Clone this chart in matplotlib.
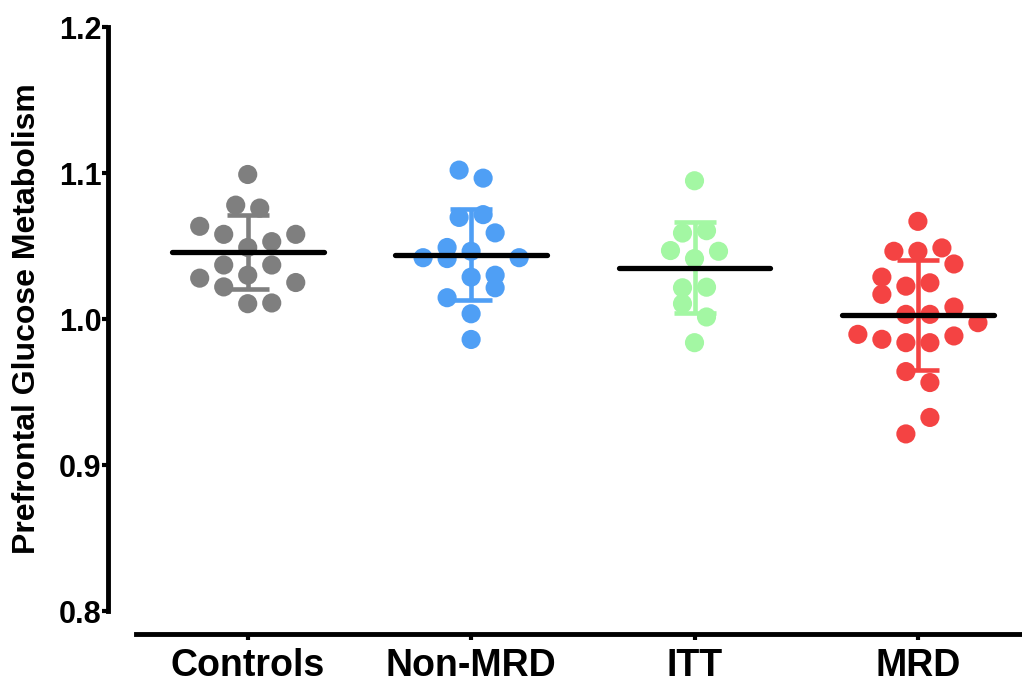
import numpy as np
import matplotlib
matplotlib.use("Agg")
import matplotlib.pyplot as plt

plt.rcParams['font.family'] = ['Liberation Sans', 'DejaVu Sans']
plt.rcParams['font.weight'] = 'bold'

# data
groups = ['Controls', 'Non-MRD', 'ITT', 'MRD']
colors = ['#7f7f7f', '#4f9ff5', '#a3f7a3', '#f44343']

controls = [1.099, 1.078, 1.076, 1.0635, 1.058, 1.058, 1.053, 1.049,
            1.037, 1.037, 1.028, 1.030, 1.025, 1.022, 1.0105, 1.011]
non_mrd = [1.102, 1.0965, 1.0696, 1.0715, 1.059, 1.049, 1.042, 1.0414,
           1.0464, 1.042, 1.0287, 1.030, 1.0214, 1.0146, 1.0036, 0.986]
itt = [1.0947, 1.0589, 1.0605, 1.0469, 1.0464, 1.0414, 1.0214, 1.0218,
       1.0105, 1.0014, 0.9838]
mrd = [1.0669, 1.0464, 1.0464, 1.0487, 1.0377, 1.0287, 1.0225, 1.0248,
       1.0169, 1.0032, 1.0032, 1.0082, 0.9975, 0.9895, 0.9861, 0.9838,
       0.9838, 0.9884, 0.964, 0.9565, 0.9326, 0.9213]

# horizontal scatter slots (column layout like Prism)
controls_slot = [0, -0.5, 0.5, -2, -1, 2, 1, 0, -1, 1, -2, 0, 2, -1, 0, 1]
non_mrd_slot = [-0.5, 0.5, -0.5, 0.5, 1, -1, -2, -1, 0, 2, 0, 1, 1, -1, 0, 0]
itt_slot = [0, -0.5, 0.5, -1, 1, 0, -0.5, 0.5, -0.5, 0.5, 0]
mrd_slot = [0, -1, 0, 1, 1.5, -1.5, -0.5, 0.5, -1.5, -0.5, 0.5, 1.5, 2.5,
            -2.5, -1.5, -0.5, 0.5, 1.5, -0.5, 0.5, 0.5, -0.5]

values = [controls, non_mrd, itt, mrd]
slots = [controls_slot, non_mrd_slot, itt_slot, mrd_slot]

fig = plt.figure(figsize=(10.22, 6.86), dpi=100)
ax = fig.add_axes([0.1331, 0.1093, 1.0 - 0.1331, 0.9606 - 0.1093])

step = 0.1075
for i, (v, s, c) in enumerate(zip(values, slots, colors)):
    v = np.array(v)
    x = i + step * np.array(s)
    ax.scatter(x, v, s=190, color=c, edgecolors='none', zorder=2)
    m = v.mean()
    sd = v.std(ddof=1)
    ax.errorbar(i, m, yerr=sd, color=c, elinewidth=3.3, capsize=15, capthick=3.3,
                fmt='none', zorder=3)
    ax.plot([i - 0.34, i + 0.34], [m, m], color='black', lw=3.8,
            solid_capstyle='round', zorder=4)

ax.set_ylim(0.8, 1.2)
ax.set_xlim(-0.5, 3.466)
ax.set_yticks([0.8, 0.9, 1.0, 1.1, 1.2])
ax.set_yticklabels(['0.8', '0.9', '1.0', '1.1', '1.2'])
ax.set_xticks(range(4))
ax.set_xticklabels(groups)

ax.spines['top'].set_visible(False)
ax.spines['right'].set_visible(False)
ax.spines['left'].set_position(('outward', 20))
ax.spines['bottom'].set_position(('outward', 16.5))
ax.spines['left'].set_linewidth(3.5)
ax.spines['bottom'].set_linewidth(3.5)

ax.tick_params(axis='y', labelsize=22, width=3, length=4, pad=1)
ax.tick_params(axis='x', labelsize=27, width=3, length=4, pad=6)
for lab in ax.get_xticklabels() + ax.get_yticklabels():
    lab.set_fontweight('bold')

ax.set_ylabel('Prefrontal Glucose Metabolism', fontsize=23, fontweight='bold',
              labelpad=12)

fig.savefig('out.png', dpi=100)
